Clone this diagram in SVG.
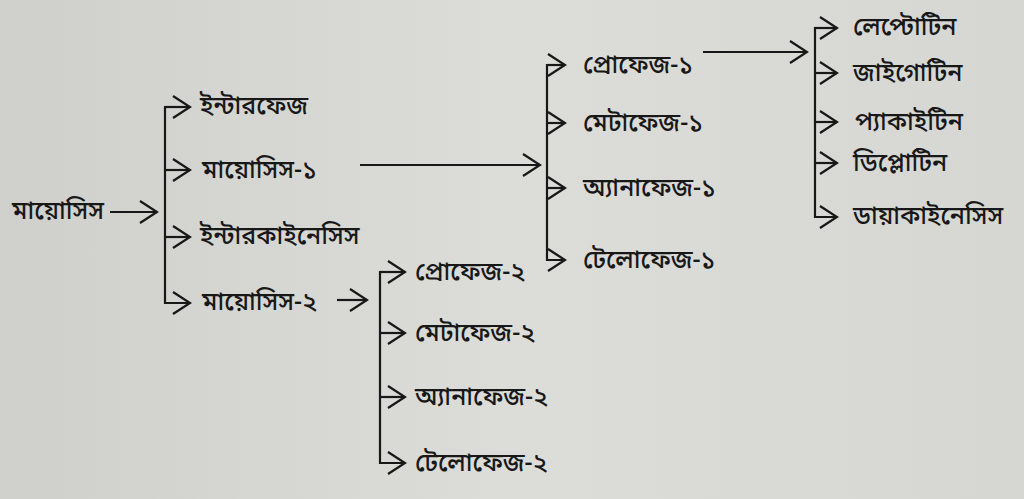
<svg xmlns="http://www.w3.org/2000/svg" width="1024" height="499" viewBox="0 0 1024 499">
<defs>
<linearGradient id="bg" x1="0" y1="0" x2="1" y2="0">
<stop offset="0" stop-color="#cfcfcc"/>
<stop offset="0.5" stop-color="#dcdcd9"/>
<stop offset="1" stop-color="#d6d6d3"/>
</linearGradient>
<marker id="chev" viewBox="0 0 20 24" refX="18" refY="12" markerWidth="20" markerHeight="24" markerUnits="userSpaceOnUse" orient="auto">
<path d="M1,1 L18,12 L1,23" fill="none" stroke="#181818" stroke-width="2.3" stroke-linejoin="miter"/>
</marker>
</defs>
<style>
.t{font-family:"Noto Sans Bengali","Noto Serif Bengali","Lohit Bengali","FreeSerif","Noto Sans",sans-serif;font-size:25px;font-weight:500;fill:#181818}
.l{fill:none;stroke:#181818;stroke-width:2.2}
</style>
<rect width="1024" height="499" fill="url(#bg)"/>
<g id="connectors">
<path class="l" d="M110,212 H157" marker-end="url(#chev)"/>
<path class="l" d="M190,107 H165 V303 H190" marker-end="url(#chev)"/>
<path class="l" d="M165,107 H190" marker-end="url(#chev)"/>
<path class="l" d="M165,170 H190" marker-end="url(#chev)"/>
<path class="l" d="M165,237 H190" marker-end="url(#chev)"/>
<path class="l" d="M360,165 H540" marker-end="url(#chev)"/>
<path class="l" d="M565,65 H547 V260 H565" marker-end="url(#chev)"/>
<path class="l" d="M547,65 H565" marker-end="url(#chev)"/>
<path class="l" d="M547,123 H565" marker-end="url(#chev)"/>
<path class="l" d="M547,188 H565" marker-end="url(#chev)"/>
<path class="l" d="M703,52 H807" marker-end="url(#chev)"/>
<path class="l" d="M837,28 H815 V217 H837" marker-end="url(#chev)"/>
<path class="l" d="M815,28 H837" marker-end="url(#chev)"/>
<path class="l" d="M815,73 H837" marker-end="url(#chev)"/>
<path class="l" d="M815,122 H837" marker-end="url(#chev)"/>
<path class="l" d="M815,163 H837" marker-end="url(#chev)"/>
<path class="l" d="M337,300 H367" marker-end="url(#chev)"/>
<path class="l" d="M405,272 H380 V463 H405" marker-end="url(#chev)"/>
<path class="l" d="M380,272 H405" marker-end="url(#chev)"/>
<path class="l" d="M380,333 H405" marker-end="url(#chev)"/>
<path class="l" d="M380,397 H405" marker-end="url(#chev)"/>
</g>
<g id="n-meiosis"><text class="t" x="12" y="219">মায়োসিস</text></g>
<g id="n-interphase"><text class="t" x="200" y="114">ইন্টারফেজ</text></g>
<g id="n-meiosis1"><text class="t" x="202" y="178">মায়োসিস-১</text></g>
<g id="n-interkinesis"><text class="t" x="200" y="244">ইন্টারকাইনেসিস</text></g>
<g id="n-meiosis2"><text class="t" x="202" y="310">মায়োসিস-২</text></g>
<g id="n-prophase1"><text class="t" x="583" y="73">প্রোফেজ-১</text></g>
<g id="n-metaphase1"><text class="t" x="583" y="131">মেটাফেজ-১</text></g>
<g id="n-anaphase1"><text class="t" x="583" y="196">অ্যানাফেজ-১</text></g>
<g id="n-telophase1"><text class="t" x="583" y="268">টেলোফেজ-১</text></g>
<g id="n-leptotene"><text class="t" x="853" y="35">লেপ্টোটিন</text></g>
<g id="n-zygotene"><text class="t" x="853" y="81">জাইগোটিন</text></g>
<g id="n-pachytene"><text class="t" x="855" y="130">প্যাকাইটিন</text></g>
<g id="n-diplotene"><text class="t" x="853" y="171">ডিপ্লোটিন</text></g>
<g id="n-diakinesis"><text class="t" x="853" y="224">ডায়াকাইনেসিস</text></g>
<g id="n-prophase2"><text class="t" x="415" y="280">প্রোফেজ-২</text></g>
<g id="n-metaphase2"><text class="t" x="415" y="341">মেটাফেজ-২</text></g>
<g id="n-anaphase2"><text class="t" x="415" y="405">অ্যানাফেজ-২</text></g>
<g id="n-telophase2"><text class="t" x="415" y="471">টেলোফেজ-২</text></g>
</svg>
